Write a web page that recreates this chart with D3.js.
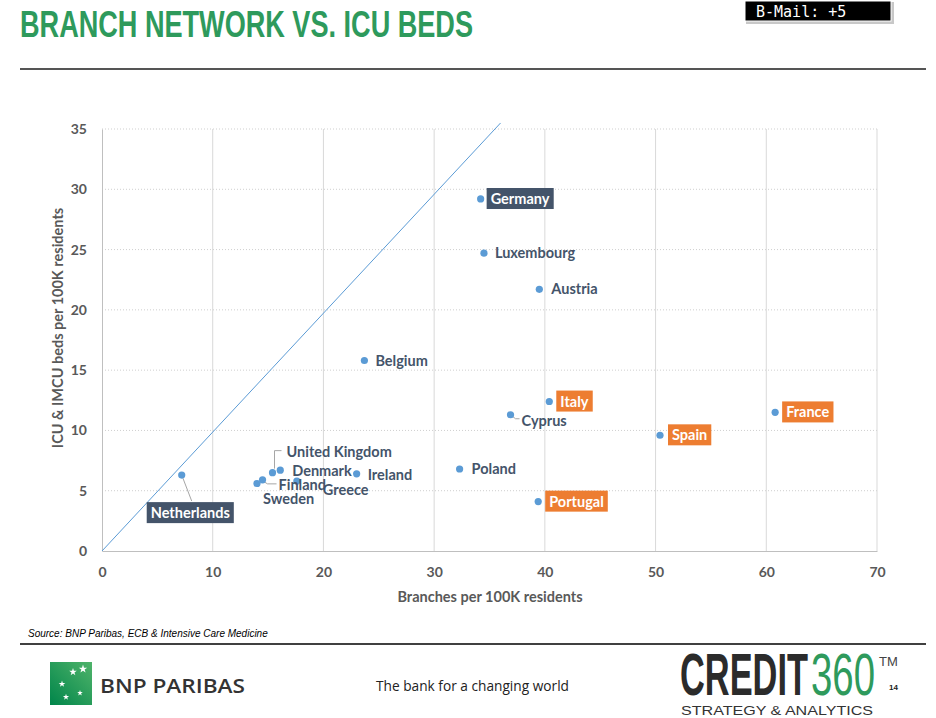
<!DOCTYPE html>
<html>
<head>
<meta charset="utf-8">
<script src="https://cdn.jsdelivr.net/npm/d3@7"></script>
<style>
  body { margin: 0; background: #fff; }
  svg { display: block; }
</style>
</head>
<body>
<svg id="chart"></svg>
<script>
// 数据
var countries = ["Germany", "Luxembourg", "Austria", "Belgium", "Italy", "Cyprus", "France", "Spain",
                 "Poland", "Portugal", "Ireland", "Netherlands", "United Kingdom", "Denmark",
                 "Finland", "Sweden", "Greece"];
var branches = [34.2, 34.5, 39.5, 23.7, 40.4, 36.9, 60.8, 50.4, 32.3, 39.4, 23.0, 7.2, 15.4, 16.1, 14.5, 14.0, 17.6];
var icuBeds  = [29.2, 24.7, 21.7, 15.8, 12.4, 11.3, 11.5, 9.6, 6.8, 4.1, 6.4, 6.3, 6.5, 6.7, 5.9, 5.6, 5.8];
var highlight = ["dark", "", "", "", "orange", "", "orange", "orange", "", "orange", "", "dark", "", "", "", "", ""];
var xTicks = [0, 10, 20, 30, 40, 50, 60, 70];
var yTicks = [0, 5, 10, 15, 20, 25, 30, 35];
var lineEnd = [36, 35.5]; // 参考线终点

// 标签偏移 (px)
var labelPos = {
    "Germany": [10, 0], "Luxembourg": [11, 0], "Austria": [12, 0], "Belgium": [11, 0],
    "Italy": [11, 0], "Cyprus": [11, 6], "France": [11, 0], "Spain": [12, 0],
    "Poland": [12, 0], "Portugal": [11, 0], "Ireland": [11, 1], "Netherlands": [-31, 38],
    "United Kingdom": [14, -21], "Denmark": [12, 1], "Finland": [16, 5], "Sweden": [6, 15], "Greece": [26, 9]
};

var width = 936, height = 718;
var margin = {top: 129, right: 59, bottom: 167, left: 102};

var svg = d3.select("#chart").attr("width", width).attr("height", height);

// 把文字横向压缩到指定宽度
function squeeze(sel, x0, y0, w) {
    var natural = sel.node().getComputedTextLength();
    sel.attr("transform", `translate(${x0},${y0}) scale(${w / natural},1)`);
    return sel;
}

// 标题
svg.append("text")
    .attr("x", 20).attr("y", 37)
    .attr("font-family", "'Liberation Sans Narrow', 'Arial Narrow', sans-serif")
    .attr("font-weight", "bold")
    .attr("font-size", 36)
    .attr("fill", "#2e9a5c")
    .attr("textLength", 453)
    .attr("lengthAdjust", "spacingAndGlyphs")
    .text("BRANCH NETWORK VS. ICU BEDS");

svg.append("line")
    .attr("x1", 20).attr("x2", 926).attr("y1", 69).attr("y2", 69)
    .attr("stroke", "#555").attr("stroke-width", 2);

// B-Mail 框
svg.append("rect").attr("x", 746).attr("y", 2).attr("width", 148).attr("height", 22)
    .attr("fill", "#c8c8c8");
svg.append("rect").attr("x", 745).attr("y", 1).attr("width", 146).attr("height", 20)
    .attr("fill", "#000").attr("stroke", "#fff").attr("stroke-width", 1);
svg.append("text")
    .attr("x", 756).attr("y", 17)
    .attr("font-family", "'DejaVu Sans Mono', monospace")
    .attr("font-size", 15)
    .attr("fill", "#fff")
    .text("B-Mail: +5");

// 比例尺
var x = d3.scaleLinear().domain([0, 70]).range([margin.left, width - margin.right]);
var y = d3.scaleLinear().domain([0, 35]).range([height - margin.bottom, margin.top]);

// 网格
svg.append("g")
    .selectAll("line").data(yTicks.slice(1)).join("line")
    .attr("x1", x(0)).attr("x2", x(70))
    .attr("y1", d => y(d)).attr("y2", d => y(d))
    .attr("stroke", "#cfcfcf").attr("stroke-dasharray", "1,2");

svg.append("g")
    .selectAll("line").data(xTicks.slice(1)).join("line")
    .attr("x1", d => x(d)).attr("x2", d => x(d))
    .attr("y1", y(0)).attr("y2", y(35))
    .attr("stroke", "#d9d9d9");

// 坐标轴
var xAxis = svg.append("g")
    .attr("transform", `translate(0,${y(0)})`)
    .call(d3.axisBottom(x).tickValues(xTicks).tickSize(0).tickPadding(16));
var yAxis = svg.append("g")
    .attr("transform", `translate(${x(0)},0)`)
    .call(d3.axisLeft(y).tickValues(yTicks).tickSize(0).tickPadding(15));

[xAxis, yAxis].forEach(g => {
    g.select(".domain").attr("stroke", "#bfbfbf");
    g.selectAll("text")
        .attr("font-family", "Lato, sans-serif")
        .attr("font-weight", "bold")
        .attr("font-size", 14)
        .attr("fill", "#595959");
});

// 坐标轴标题
svg.append("text")
    .attr("x", 490).attr("y", 602)
    .attr("text-anchor", "middle")
    .attr("font-family", "Lato, sans-serif").attr("font-weight", "bold")
    .attr("font-size", 14.5).attr("fill", "#595959")
    .text("Branches per 100K residents");

svg.append("text")
    .attr("transform", "translate(63,328) rotate(-90)")
    .attr("text-anchor", "middle")
    .attr("font-family", "Lato, sans-serif").attr("font-weight", "bold")
    .attr("font-size", 14.5).attr("fill", "#595959")
    .text("ICU & IMCU beds per 100K residents");

// 参考线
svg.append("line")
    .attr("x1", x(0)).attr("y1", y(0))
    .attr("x2", x(lineEnd[0])).attr("y2", y(lineEnd[1]))
    .attr("stroke", "#5b9bd5").attr("stroke-width", 1);

// 数据
var data = countries.map((c, i) => ({name: c, bx: branches[i], icu: icuBeds[i], hl: highlight[i]}));

// 引线
var leader = d3.line();
var leaders = {
    "Netherlands": [[0, 0], [10, 26]],
    "United Kingdom": [[2, -4], [2, -22], [9, -22]],
    "Finland": [[0, 1], [5, 4], [14, 4]],
    "Cyprus": [[0, 0], [5, 4], [9, 4]]
};
data.forEach(d => {
    if (leaders[d.name]) {
        svg.append("path")
            .attr("d", leader(leaders[d.name].map(p => [x(d.bx) + p[0], y(d.icu) + p[1]])))
            .attr("fill", "none")
            .attr("stroke", "#a6a6a6")
            .attr("stroke-width", 1);
    }
});

// 点
svg.append("g")
    .selectAll("circle").data(data).join("circle")
    .attr("cx", d => x(d.bx))
    .attr("cy", d => y(d.icu))
    .attr("r", 3.6)
    .attr("fill", "#5b9bd5");

// 标签
var labels = svg.append("g");
data.forEach(d => {
    var off = labelPos[d.name];
    var g = labels.append("g");
    var t = g.append("text")
        .attr("x", x(d.bx) + off[0])
        .attr("y", y(d.icu) + off[1])
        .attr("dy", "0.35em")
        .attr("font-family", "Lato, sans-serif")
        .attr("font-weight", "bold")
        .attr("font-size", 14.5)
        .attr("fill", d.hl ? "#fff" : "#44546a")
        .text(d.name);
    if (d.hl) {
        var b = t.node().getBBox();
        g.insert("rect", "text")
            .attr("x", b.x - 4).attr("y", b.y - 2)
            .attr("width", b.width + 8).attr("height", b.height + 4)
            .attr("fill", d.hl === "dark" ? "#44546a" : "#ed7d31");
    }
});

// 来源
svg.append("text")
    .attr("x", 28).attr("y", 637)
    .attr("font-family", "'Liberation Sans', Arial, sans-serif")
    .attr("font-style", "italic")
    .attr("font-size", 10)
    .attr("fill", "#000")
    .text("Source: BNP Paribas, ECB & Intensive Care Medicine");

svg.append("line")
    .attr("x1", 20).attr("x2", 926).attr("y1", 644).attr("y2", 644)
    .attr("stroke", "#000").attr("stroke-width", 1.5);

// BNP 标志
var defs = svg.append("defs");
var grad = defs.append("linearGradient").attr("id", "bnpGrad")
    .attr("x1", "0").attr("y1", "1").attr("x2", "1").attr("y2", "0");
grad.append("stop").attr("offset", "0%").attr("stop-color", "#00854a");
grad.append("stop").attr("offset", "100%").attr("stop-color", "#4fb36a");
svg.append("rect").attr("x", 50).attr("y", 662).attr("width", 42).attr("height", 43)
    .attr("fill", "url(#bnpGrad)");
var stars = [[73, 672, 18], [83, 669, 22], [62, 684, 14], [66, 697, 12], [80, 693, 10]];
svg.append("g").selectAll("path").data(stars).join("path")
    .attr("transform", d => `translate(${d[0]},${d[1]})`)
    .attr("d", d => d3.symbol(d3.symbolStar, d[2])())
    .attr("fill", "#fff");

svg.append("text")
    .attr("x", 100).attr("y", 693)
    .attr("font-family", "'Open Sans', sans-serif")
    .attr("font-weight", "600")
    .attr("font-size", 19)
    .attr("fill", "#333")
    .attr("textLength", 145)
    .attr("lengthAdjust", "spacingAndGlyphs")
    .text("BNP PARIBAS");

svg.append("text")
    .attr("x", 376).attr("y", 691)
    .attr("font-family", "'Open Sans', sans-serif")
    .attr("font-size", 15)
    .attr("fill", "#222")
    .attr("textLength", 193)
    .attr("lengthAdjust", "spacingAndGlyphs")
    .text("The bank for a changing world");

// CREDIT360
squeeze(svg.append("text")
    .attr("font-family", "'Liberation Sans Narrow', 'Arial Narrow', sans-serif")
    .attr("font-weight", "bold")
    .attr("font-size", 60)
    .attr("fill", "#2b2b2b")
    .text("CREDIT"), 680, 695, 128);
squeeze(svg.append("text")
    .attr("font-family", "'Liberation Sans Narrow', 'Arial Narrow', sans-serif")
    .attr("font-size", 60)
    .attr("fill", "#2e9a5c")
    .text("360"), 811, 695, 64);
svg.append("text")
    .attr("x", 879).attr("y", 666)
    .attr("font-family", "'Liberation Sans', sans-serif")
    .attr("font-size", 13)
    .attr("fill", "#444")
    .text("TM");
svg.append("text")
    .attr("x", 889).attr("y", 690)
    .attr("font-family", "'Liberation Sans', sans-serif")
    .attr("font-weight", "bold")
    .attr("font-size", 8)
    .attr("fill", "#222")
    .text("14");
svg.append("text")
    .attr("x", 681).attr("y", 715)
    .attr("font-family", "'Liberation Sans', sans-serif")
    .attr("font-size", 13.5)
    .attr("fill", "#333")
    .attr("textLength", 192)
    .attr("lengthAdjust", "spacingAndGlyphs")
    .text("STRATEGY & ANALYTICS");
</script>
</body>
</html>
